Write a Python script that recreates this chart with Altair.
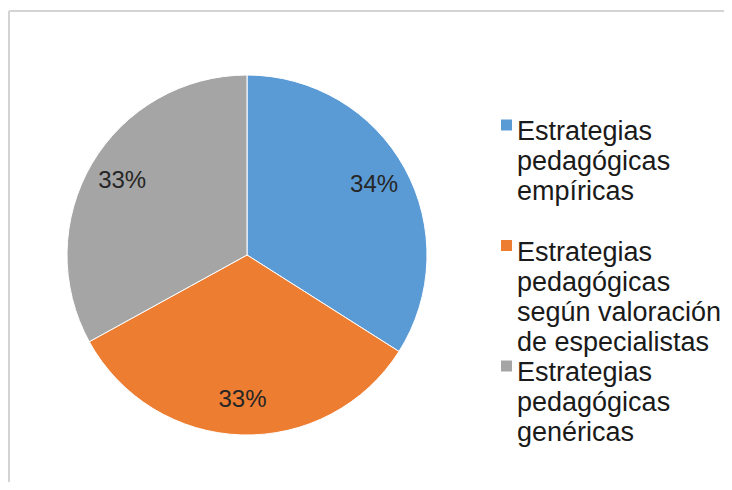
import altair as alt
import pandas as pd

categories = [
    "Estrategias|pedagógicas|empíricas",
    "Estrategias|pedagógicas|según valoración|de especialistas",
    "Estrategias|pedagógicas|genéricas",
]
values = [34, 33, 33]
labels = ["34%", "33%", "33%"]
colors = ["#5B9BD5", "#ED7D31", "#A5A5A5"]

df = pd.DataFrame({"cat": categories, "val": values, "lab": labels, "idx": [0, 1, 2]})

base = alt.Chart(df)
color_scale = alt.Scale(domain=categories, range=colors)

arc = base.mark_arc(stroke="white", strokeWidth=1).encode(
    theta=alt.Theta("val:Q", stack=True),
    order=alt.Order("idx:Q"),
    color=alt.Color("cat:N", scale=color_scale, legend=None),
    x=alt.value(239),
    y=alt.value(247),
    radius=alt.value(180),
)

text = base.mark_text(font="Liberation Sans", fontSize=24, color="#262626").encode(
    theta=alt.Theta("val:Q", stack=True),
    order=alt.Order("idx:Q"),
    text="lab:N",
    x=alt.value(239),
    y=alt.value(247),
    radius=alt.value(145),
)

# legend, drawn from the same categories
leg_y = alt.Y("idx:Q", scale=alt.Scale(domain=[0, 2], range=[132, 373]), axis=None)

leg_sym = base.mark_square(size=121, yOffset=-15, opacity=1).encode(
    x=alt.value(498.5),
    y=leg_y,
    color=alt.Color("cat:N", scale=color_scale, legend=None),
)

leg_txt = base.mark_text(
    font="Liberation Sans",
    fontSize=27,
    lineHeight=30,
    lineBreak="|",
    align="left",
    baseline="alphabetic",
    color="#1a1a1a",
).encode(
    x=alt.value(509),
    y=leg_y,
    text="cat:N",
)

frame = pd.DataFrame({"a": [0]})
top_line = alt.Chart(frame).mark_rule(color="#D4D4D4", strokeWidth=2).encode(
    x=alt.value(1), x2=alt.value(716), y=alt.value(3)
)
left_line = alt.Chart(frame).mark_rule(color="#D4D4D4", strokeWidth=2).encode(
    x=alt.value(1), y=alt.value(3), y2=alt.value(474)
)

chart = alt.layer(top_line, left_line, arc, text, leg_sym, leg_txt).properties(
    width=716,
    height=474,
    autosize=alt.AutoSizeParams(type="fit", contains="padding"),
    padding=0,
    background="white",
).configure_view(stroke=None)

chart.save("out.html", embed_options={"renderer": "svg", "actions": False})
